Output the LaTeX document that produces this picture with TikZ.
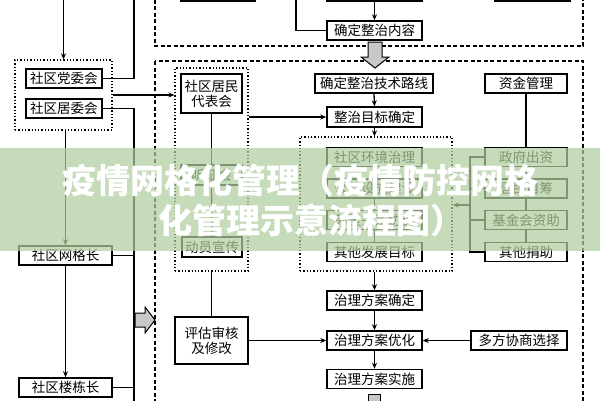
\documentclass[tikz,border=0pt]{standalone}
\usepackage{fontspec}
\newfontfamily\cjk{Noto Sans CJK SC}
\usetikzlibrary{arrows.meta}
\definecolor{bandc}{RGB}{176,206,158}
\definecolor{greyfill}{RGB}{200,200,200}
\tikzset{
  bx/.style={draw, line width=1.5pt, inner sep=0pt, minimum height=19pt, fill=white,
    font=\cjk\fontsize{13.5}{15}\selectfont, align=center},
  grp/.style={draw, dotted, line width=1.3pt, inner sep=0pt},
  dbox/.style={draw, dash pattern=on 4pt off 2.5pt, line width=1.3pt},
  ln/.style={line width=1.3pt},
  ar/.style={ln, -{Stealth[length=6pt,width=5pt]}},
  blk/.style={draw, line width=1pt, fill=greyfill},
  ttl/.style={text=white, font=\cjk\bfseries\fontsize{34}{40}\selectfont, inner sep=0pt},
}
\begin{document}
\begin{tikzpicture}[x=1pt,y=-1pt]
\useasboundingbox (0,0) rectangle (600,400);
\clip (0,0) rectangle (600,400);
\fill[white] (0,0) rectangle (600,400);

% ---- dashed frames ----
\draw[dbox] (155,-20) rectangle (583,46);
\draw[dbox] (155,61) rectangle (583,420);

% ---- top (cut) boxes ----
\node[bx, minimum width=74pt, minimum height=30pt] (t1) at (218,-14) {};
\node[bx, minimum width=95pt, minimum height=30pt] (t2) at (374.5,-14) {};
\node[bx, minimum width=75pt, minimum height=30pt] (t3) at (532.5,-14) {};
\node[bx, minimum width=95pt] (nr) at (374.5,30.5) {确定整治内容};
\coordinate (ctop1) at (296,-5);
\draw[ln] (ctop1) |- (nr.west);
\draw[ar] (t2.south) -- (nr.north);

% ---- left column ----
\node[grp, minimum width=97pt, minimum height=70pt] (g1) at (63.5,95) {};
\node[bx, minimum width=76pt] (dq) at (64,78.5) {社区党委会};
\node[bx, minimum width=76pt] (jw) at (64,108.5) {社区居委会};
\node[bx, minimum width=93pt] (wg) at (65.5,255.5) {社区网格长};
\node[bx, minimum width=93pt] (ld) at (65.5,387.5) {社区楼栋长};
\coordinate (cl0) at (63.5,-5);
\coordinate (cl1) at (134,-5);
\coordinate (cl2) at (134,405);
\draw[ar] (cl0) -- (g1.north);
\draw[ln] (cl1) |- (dq.east);
\draw[ln] (jw.east) -| (cl2);
\draw[ln] (wg.east) -- (wg.east -| cl2);
\draw[ln] (ld.east) -- (ld.east -| cl2);
\draw[ar] (g1.south -| wg.north) -- (wg.north);
\draw[ar] (wg.south) -- (ld.north);
% grey block arrow to the right
\draw[blk] (135,313) -- (145,313) -- (145,307) -- (155,320) -- (145,333) -- (145,327) -- (135,327) -- cycle;

% ---- resident column ----
\node[grp, minimum width=73pt, minimum height=203pt] (g2) at (211.5,169.5) {};
\draw[ar] (g1.east) -- (g1.east -| g2.west);
\node[bx, minimum width=61pt, minimum height=39pt] (rep) at (211.5,93.5) {社区居民\\代表会};
\node[bx, minimum width=61pt, minimum height=20pt] (xh) at (211.5,175) {听证会};
\node[bx, minimum width=60pt, minimum height=20pt] (dy) at (212,247) {动员宣传};
\node[bx, minimum width=73pt, minimum height=47pt] (pg) at (211.5,340.5) {评估审核\\及修改};
\draw[ln] (rep.south) -- (xh.north);
\draw[ln] (xh.south) -- (dy.north);
\draw[ln] (g2.south) -- (pg.north);

% ---- middle column ----
\node[bx, minimum width=118pt] (js) at (374,83.5) {确定整治技术路线};
\node[bx, minimum width=95pt, minimum height=20pt] (mb) at (374.5,117) {整治目标确定};
\node[grp, minimum width=152pt, minimum height=134pt] (g3) at (376,204) {};
\node[bx, minimum width=95pt] (m1) at (374.5,157) {社区环境治理};
\node[bx, minimum width=95pt] (m2) at (374.5,188.5) {公共设施建设};
\node[bx, minimum width=95pt] (m3) at (374.5,220) {邻里关系协调};
\node[bx, minimum width=95pt] (m4) at (374.5,252) {其他发展目标};
\node[bx, minimum width=95pt] (fa) at (374.5,300.5) {治理方案确定};
\node[bx, minimum width=95pt] (yh) at (374.5,340.5) {治理方案优化};
\node[bx, minimum width=95pt] (ss) at (374.5,379) {治理方案实施};
\draw[ar] (js.south) -- (mb.north);
\draw[ar] (mb.south) -- (mb.south |- g3.north);
\draw[ln] (m1.south) -- (m2.north);
\draw[ln] (m2.south) -- (m3.north);
\draw[ln] (m3.south) -- (m4.north);
\draw[ar] (g3.south -| fa.north) -- (fa.north);
\draw[ar] (fa.south) -- (yh.north);
\draw[ar] (yh.south) -- (ss.north);
\draw[ar] (mb.west -| g2.east) -- (mb.west);
\draw[ar] (pg.east) -- (yh.west);
% grey block arrows (down)
\draw[blk] (368,42) -- (382,42) -- (382,57) -- (389,57) -- (375,68) -- (361,57) -- (368,57) -- cycle;
\draw[blk] (368,394) -- (380,394) -- (380,410) -- (368,410) -- cycle;

% ---- right column ----
\node[bx, minimum width=82pt] (zj) at (526,83.5) {资金管理};
\node[bx, minimum width=82pt] (r1) at (526,157) {政府出资};
\node[bx, minimum width=82pt] (r2) at (526,188.5) {居民自筹};
\node[bx, minimum width=82pt] (r3) at (526,220) {基金会资助};
\node[bx, minimum width=82pt] (r4) at (526,252) {其他捐助};
\node[bx, minimum width=96pt] (df) at (519,340.5) {多方协商选择};
\draw[ln] (zj.south) -- (r1.north);
\draw[ln] (r1.south) -- (r2.north);
\draw[ln] (r2.south) -- (r3.north);
\draw[ln] (r3.south) -- (r4.north);
\coordinate (br) at (470,205);
\draw[ln] (r1.west) -| (br |- r1.west) -- (br |- r4.west) -- (r4.west);
\draw[ln] (r2.west) -- (r2.west -| br);
\draw[ln] (r3.west) -- (r3.west -| br);
\draw[ar] (br) -- (br -| g3.east);
\draw[ar] (df.west) -- (yh.east);

% ---- overlay band and title ----
\fill[bandc, opacity=0.72] (0,148) rectangle (600,251);
\node[ttl, anchor=west] (title1) at (62,181) {疫情网格化管理（疫情防控网格};
\node[ttl, anchor=west] (title2) at (158,220) {化管理示意流程图）};
\end{tikzpicture}
\end{document}
